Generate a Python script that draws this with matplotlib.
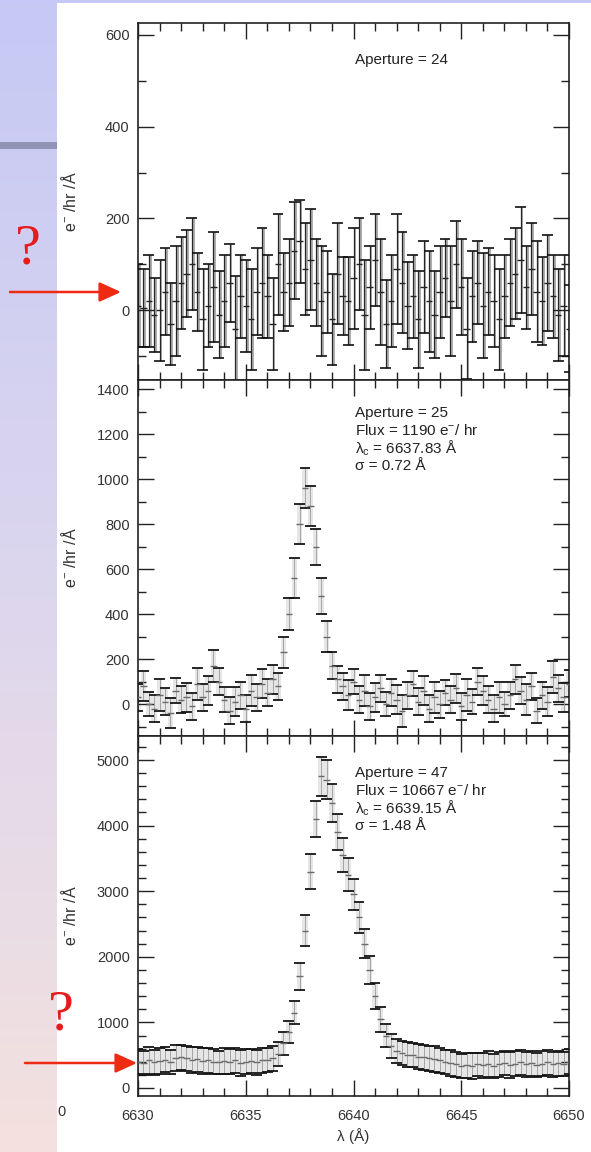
import numpy as np
import matplotlib
matplotlib.use("Agg")
import matplotlib.pyplot as plt
from matplotlib.ticker import MultipleLocator
from matplotlib.colors import LinearSegmentedColormap
from matplotlib.patches import Rectangle

plt.rcParams['font.family'] = ['Liberation Sans', 'DejaVu Sans']
plt.rcParams['mathtext.fontset'] = 'custom'
plt.rcParams['mathtext.rm'] = 'Liberation Sans'
plt.rcParams['mathtext.it'] = 'Liberation Sans:italic'

# ---------------- data ----------------
wavelength = [6630.00, 6630.25, 6630.50, 6630.75, 6631.00, 6631.25, 6631.50, 6631.75,
              6632.00, 6632.25, 6632.50, 6632.75, 6633.00, 6633.25, 6633.50, 6633.75,
              6634.00, 6634.25, 6634.50, 6634.75, 6635.00, 6635.25, 6635.50, 6635.75,
              6636.00, 6636.25, 6636.50, 6636.75, 6637.00, 6637.25, 6637.50, 6637.75,
              6638.00, 6638.25, 6638.50, 6638.75, 6639.00, 6639.25, 6639.50, 6639.75,
              6640.00, 6640.25, 6640.50, 6640.75, 6641.00, 6641.25, 6641.50, 6641.75,
              6642.00, 6642.25, 6642.50, 6642.75, 6643.00, 6643.25, 6643.50, 6643.75,
              6644.00, 6644.25, 6644.50, 6644.75, 6645.00, 6645.25, 6645.50, 6645.75,
              6646.00, 6646.25, 6646.50, 6646.75, 6647.00, 6647.25, 6647.50, 6647.75,
              6648.00, 6648.25, 6648.50, 6648.75, 6649.00, 6649.25, 6649.50, 6649.75,
              6650.00]

# Aperture 24
ap24_flux = [10, 5, 20, -10, 0, 40, -30, 20, 60, 80,
             100, 40, -20, 10, 50, -10, 20, 60, -40, 30,
             10, -20, 40, 60, 30, -30, 100, 40, 60, 130,
             150, 90, 110, 60, 20, 40, -20, 80, 30, 20,
             70, 100, -10, 50, 110, 40, -30, 20, 90, 60,
             10, 30, -20, 50, 20, -10, 40, 70, 20, 100,
             50, -40, 30, 60, 10, 40, 20, -20, 30, 60,
             80, 110, 50, 90, 40, 20, 60, 30, -10, 10,
             -40]
ap24_err = [90, 85, 100, 80, 110, 95, 90, 120, 100, 95,
            100, 85, 110, 90, 120, 95, 100, 85, 115, 90,
            100, 110, 95, 120, 90, 100, 110, 85, 95, 105,
            90, 100, 110, 95, 120, 90, 100, 110, 85, 95,
            110, 100, 120, 90, 100, 115, 95, 100, 120, 110,
            95, 90, 105, 100, 110, 95, 100, 85, 120, 95,
            105, 110, 100, 90, 115, 95, 100, 110, 90, 95,
            100, 115, 90, 100, 110, 95, 105, 90, 100, 110,
            95]

# Aperture 25
ap25_flux = [30, 80, 0, -20, 40, 10, -40, 60, 20, 30,
             -10, 90, 30, 60, 170, 100, 20, -30, 10, 40,
             -20, 60, 30, 90, 50, 110, 80,
             230, 400, 560, 800, 960, 880, 700, 480, 300, 170,
             110,
             80, 40, 100, 20, 60, -10, 30, 70, 0, 50,
             20, -30, 40, 90, 10, 60, -20, 30, 0, 50,
             20, 70, -10, 40, 10, 100, 60, 20, -20, 30,
             0, 40, 110, 60, 20, 80, -30, 40, 10, 120,
             70, 30, 90]
ap25_err = [60, 65, 55, 60, 70, 60, 65, 55, 60, 65,
            60, 70, 60, 65, 70, 60, 55, 60, 65, 60,
            60, 70, 60, 65, 60, 65, 60,
            70, 70, 90, 90, 90, 90, 80, 80, 70, 60,
            60,
            60, 65, 55, 60, 70, 60, 65, 60, 55, 60,
            65, 70, 60, 55, 60, 65, 60, 70, 60, 55,
            60, 65, 60, 70, 55, 60, 65, 60, 60, 70,
            55, 60, 65, 60, 70, 60, 55, 60, 65, 70,
            60, 65, 60]

# Aperture 47
ap47_flux = [400, 380, 420, 390, 410, 430, 400, 460, 470, 450,
             430, 440, 410, 420, 400, 390, 410, 400, 420, 380,
             400, 410, 390, 420, 430, 450,
             520, 680, 850, 1150, 1700, 2400, 3300, 4100, 4750, 4700,
             4350, 3900, 3550, 3250, 2950, 2600, 2200, 1800, 1400, 1050,
             800, 640, 560,
             530, 510, 500, 480, 470, 450, 440, 420, 400, 380,
             360, 340, 350, 330, 360, 350, 370, 340, 360, 380,
             350, 370, 390, 360, 380, 350, 370, 390, 360, 380,
             370, 400]
ap47_err = [190, 180, 200, 185, 195, 190, 180, 200, 190, 185,
            195, 190, 200, 185, 190, 180, 195, 190, 185, 200,
            190, 180, 195, 190, 185, 190,
            180, 175, 170, 180, 200, 230, 260, 280, 300, 300,
            290, 270, 260, 250, 240, 230, 220, 210, 200, 190,
            180, 180, 180,
            185, 190, 180, 195, 190, 185, 200, 190, 180, 195,
            190, 185, 190, 200, 180, 190, 195, 185, 190, 180,
            200, 190, 185, 195, 190, 180, 190, 195, 185, 190,
            180, 190]

panel_text = [
    ["Aperture = 24"],
    ["Aperture = 25", "Flux = 1190 e$^{-}$/ hr", "λ$_{\\rm c}$ = 6637.83 Å", "σ = 0.72 Å"],
    ["Aperture = 47", "Flux = 10667 e$^{-}$/ hr", "λ$_{\\rm c}$ = 6639.15 Å", "σ = 1.48 Å"],
]
x_ticklabels = ["6630", "6635", "6640", "6645", "6650"]

# ---------------- figure ----------------
W, H, DPI = 591, 1152, 100
fig = plt.figure(figsize=(W / DPI, H / DPI), dpi=DPI, facecolor='white')

# slide background
bg = fig.add_axes([0, 0, 1, 1], zorder=-10)
bg.set_xlim(0, W); bg.set_ylim(H, 0); bg.axis('off')
cmap = LinearSegmentedColormap.from_list('slide', ['#c6c9f5', '#dcd6ee', '#f4e1df'])
grad = np.linspace(0, 1, 256).reshape(-1, 1)
bg.imshow(grad, cmap=cmap, extent=[0, 57, H, 0], aspect='auto', zorder=0)
bg.add_patch(Rectangle((57, 0), W - 57, 3, color='#c6c9f5', lw=0, zorder=1))
bg.add_patch(Rectangle((0, 142), 57, 7, color='#9294b6', lw=0, zorder=2))
bg.text(62, 1112, "0", ha='center', va='center', fontsize=10.5, color='#333333')

# panels: (top px, bottom px, ylim, major, minor)
panels = [
    (23, 380, (-152, 626), 200, 100, ap24_flux, ap24_err),
    (380, 736, (-142, 1440), 200, 100, ap25_flux, ap25_err),
    (736, 1096, (-122, 5366), 1000, 200, ap47_flux, ap47_err),
]
left_px, right_px = 138, 569
wl = np.array(wavelength)

for k, (top, bot, ylim, maj, mnr, flux, err) in enumerate(panels):
    ax = fig.add_axes([left_px / W, 1 - bot / H, (right_px - left_px) / W, (bot - top) / H])
    f = np.array(flux, dtype=float)
    e = np.array(err, dtype=float)
    if k == 0:
        ax.bar(wl + 0.065, 2 * e, bottom=f - e, width=0.13, color='#8c8c8c', alpha=0.7, lw=0, zorder=1)
        ax.errorbar(wl, f, yerr=e, fmt='none', ecolor='#262626', elinewidth=0.9, capsize=0, zorder=2)
        ax.hlines(f + e, wl - 0.25, wl + 0.25, color='#111111', lw=1.2, zorder=3)
        ax.hlines(f - e, wl - 0.25, wl + 0.25, color='#111111', lw=1.2, zorder=3)
        ax.hlines(f, wl - 0.15, wl + 0.15, color='#222222', lw=1.0, zorder=3)
    else:
        ax.bar(wl, 2 * e, bottom=f - e, width=0.25, color='#d2d2d2', alpha=0.55, lw=0, zorder=1)
        ax.errorbar(wl, f, yerr=e, fmt='none', ecolor='#9a9a9a', elinewidth=0.6, capsize=0, zorder=2)
        ax.hlines(f + e, wl - 0.25, wl + 0.25, color='#151515', lw=1.3, zorder=3)
        ax.hlines(f - e, wl - 0.25, wl + 0.25, color='#151515', lw=1.3, zorder=3)
        ax.hlines(f, wl - 0.15, wl + 0.15, color='#6a6a6a', lw=1.0, zorder=3)

    ax.set_xlim(6630, 6650)
    ax.set_ylim(*ylim)
    ax.xaxis.set_major_locator(MultipleLocator(5))
    ax.xaxis.set_minor_locator(MultipleLocator(1))
    ax.yaxis.set_major_locator(MultipleLocator(maj))
    ax.yaxis.set_minor_locator(MultipleLocator(mnr))
    ax.tick_params(which='both', direction='in', top=True, right=True, color='#222222', width=1.0)
    ax.tick_params(which='major', length=11.5, labelsize=10.5, labelcolor='#333333', pad=6)
    ax.tick_params(which='minor', length=5.5)
    for s in ax.spines.values():
        s.set_color('#222222'); s.set_linewidth(1.2)
    if k < 2:
        ax.tick_params(labelbottom=False)
    else:
        ax.set_xticks([6630, 6635, 6640, 6645, 6650])
        ax.set_xticklabels(x_ticklabels)
        ax.tick_params(axis='x', which='major', pad=9)
        ax.set_xlabel("λ (Å)", fontsize=11, color='#333333', labelpad=4)
    ax.set_ylabel("e$^{-}$ /hr /Å", fontsize=11.5, color='#333333')
    ax.yaxis.set_label_coords((79 - left_px) / (right_px - left_px), 0.5)

    # annotation text
    lines = panel_text[k]
    ystart = [60, 413, 773][k]
    for j, t in enumerate(lines):
        fig.text(355 / W, 1 - (ystart + j * 17.5) / H, t, ha='left', va='center',
                 fontsize=11, color='#222222')

# overlay: red question marks and arrows
ov = fig.add_axes([0, 0, 1, 1], zorder=20)
ov.set_xlim(0, W); ov.set_ylim(H, 0); ov.axis('off'); ov.patch.set_alpha(0)
red = '#ee2a12'
ov.text(28, 249, "?", ha='center', va='center', fontsize=42, color='#e41c1c',
        family='Liberation Serif')
ov.text(61, 1016, "?", ha='center', va='center', fontsize=42, color='#e41c1c',
        family='Liberation Serif')
for (x0, x1, y) in [(10, 121, 292), (25, 137, 1063)]:
    ov.annotate('', xy=(x1, y), xytext=(x0, y),
                arrowprops=dict(arrowstyle='-|>,head_length=1.1,head_width=0.5',
                                color=red, lw=1.8, shrinkA=0, shrinkB=0, mutation_scale=12))

fig.savefig("out.png", dpi=DPI, facecolor='white')
